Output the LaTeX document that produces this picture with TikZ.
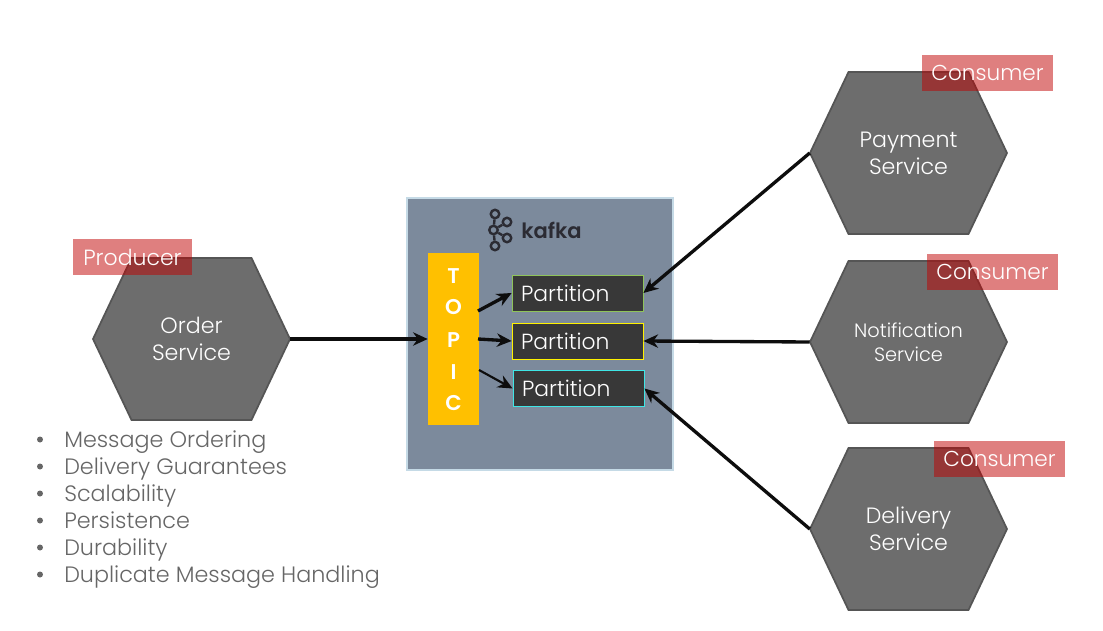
\documentclass[tikz,border=0pt]{standalone}
\usepackage{fontspec}
\setmainfont{Poppins}[UprightFont=* Light,BoldFont=* SemiBold]
\usetikzlibrary{arrows.meta}
\definecolor{hexfill}{HTML}{6D6D6D}
\definecolor{hexline}{HTML}{555555}
\definecolor{tagred}{HTML}{C00000}
\definecolor{kafkafill}{HTML}{7C8A9C}
\definecolor{kafkaline}{HTML}{C5DAE6}
\definecolor{topicfill}{HTML}{FFC000}
\definecolor{partfill}{HTML}{383838}
\definecolor{listgrey}{HTML}{666666}
\definecolor{logodark}{HTML}{2B2B33}
\definecolor{partgreen}{HTML}{8FC45A}
\definecolor{partcyan}{HTML}{3FE6E6}
\tikzset{
	hexshape/.style={fill=hexfill, draw=hexline, line width=1.3pt, line join=miter},
	service/.style={minimum width=197*0.75pt, minimum height=162*0.75pt, inner sep=0pt,
		text=white, align=center, font=\fontsize{16.6}{20.25}\selectfont},
	tagbox/.style={fill=tagred, fill opacity=0.5, text opacity=1, text=white, minimum width=131*0.75pt, minimum height=36*0.75pt,
		inner sep=0pt, font=\fontsize{16.2}{20}\selectfont},
	partition/.style={fill=partfill, line width=0.6pt, minimum width=131*0.75pt, minimum height=36*0.75pt, inner sep=0pt,
		text=white, text width=113*0.75pt, font=\fontsize{16.4}{20}\selectfont},
	letter/.style={text=white, font=\bfseries\fontsize{16}{20}\selectfont, inner sep=0pt},
	listitem/.style={text=listgrey, anchor=base west, inner sep=0pt, font=\fontsize{16.7}{20}\selectfont},
	listdot/.style={circle, fill=listgrey, minimum size=4.5pt, inner sep=0pt},
	logoring/.style={circle, draw=logodark, line width=1.8pt, minimum size=8.5*0.75pt, inner sep=0pt},
	bigarrow/.style={-{Stealth[length=11pt,width=10pt]}, line width=2.5pt, black!95},
}
\newcommand{\hexnode}[4][]{
	\draw
		[hexshape] (#3) ++(-98.5,0) -- ++(38.5,-81) -- ++(120,0) -- ++(38.5,81) -- ++(-38.5,81) -- ++(-120,0) -- cycle;
	\node [service,#1] (#2) at (#3) {#4};
}
\begin{document}
\begin{tikzpicture}[x=0.75pt,y=-0.75pt]
	\useasboundingbox
		(0,0) rectangle (1103,631);

	\hexnode{order}{191.5,339}{Order\\Service}
	\hexnode{payment}{908.5,153}{Payment\\Service}
	\hexnode[font=\fontsize{14.5}{18}\selectfont]{notification}{908.5,342}{Notification\\Service}
	\hexnode{delivery}{908.5,529}{Delivery\\Service}

	\node [tagbox, minimum width=119*0.75pt, font=\fontsize{16.5}{20}\selectfont] (producer) at (132.5,257) {Producer};
	\node [tagbox] (consumerA) at (987.5,73) {Consumer};
	\node [tagbox] (consumerB) at (992.5,271.5) {Consumer};
	\node [tagbox] (consumerC) at (999.5,459) {Consumer};

	\node [fill=kafkafill, draw=kafkaline, line width=1.5pt, minimum width=266*0.75pt, minimum height=272*0.75pt, inner sep=0pt]
		(kafka) at (540,334) {};
	\node [fill=topicfill, minimum width=51*0.75pt, minimum height=172*0.75pt, inner sep=0pt]
		(topic) at (453.5,339) {};

	\foreach \name/\txt/\y in {t/T/276, o/O/307.5, p/P/340, i/I/372, c/C/403}
		\node [letter] (letter\name) at (453.5,\y) {\txt};

	\node [partition, draw=partgreen] (partA) at (577.5,293) {Partition};
	\node [partition, draw=yellow] (partB) at (577.5,341) {Partition};
	\node [partition, draw=partcyan] (partC) at (578.5,388.5) {Partition};

	\node [logoring] (ringA) at (495,214) {};
	\node [logoring] (ringB) at (507,222) {};
	\node [logoring] (ringC) at (493.5,230) {};
	\node [logoring] (ringD) at (507,238) {};
	\node [logoring] (ringE) at (495,246) {};
	\foreach \a/\b in {ringA/ringC, ringC/ringE, ringB/ringC, ringD/ringC}
		\draw
			[logodark, line width=1.8pt] (\a) -- (\b);
	\node [text=logodark, anchor=west, inner sep=0pt, font=\bfseries\fontsize{15.8}{18}\selectfont] (kafkaname) at (521,230) {kafka};

	\coordinate (topicA) at (478,311);
	\coordinate (topicB) at (478,339);
	\coordinate (topicC) at (479,370);

	\draw
		[bigarrow] (order.east) -- (topic.west);
	\draw
		[bigarrow] (topicA) -- (partA.west);
	\draw
		[bigarrow] (topicB) -- (partB.west);
	\draw
		[bigarrow, line width=1.6pt] (topicC) -- (partC.west);
	\draw
		[bigarrow] (payment.west) -- (partA.east);
	\draw
		[bigarrow] (notification.west) -- (partB.east);
	\draw
		[bigarrow] (delivery.west) -- (partC.east);

	\foreach \n/\y/\txt in {1/447/Message Ordering, 2/474/Delivery Guarantees, 3/501/Scalability, 4/528/Persistence, 5/555/Durability, 6/582/Duplicate Message Handling} {
		\node [listdot] (dot\n) at (40,\y-7.5) {};
		\node [listitem] (item\n) at (64,\y) {\txt};
	}
\end{tikzpicture}
\end{document}
